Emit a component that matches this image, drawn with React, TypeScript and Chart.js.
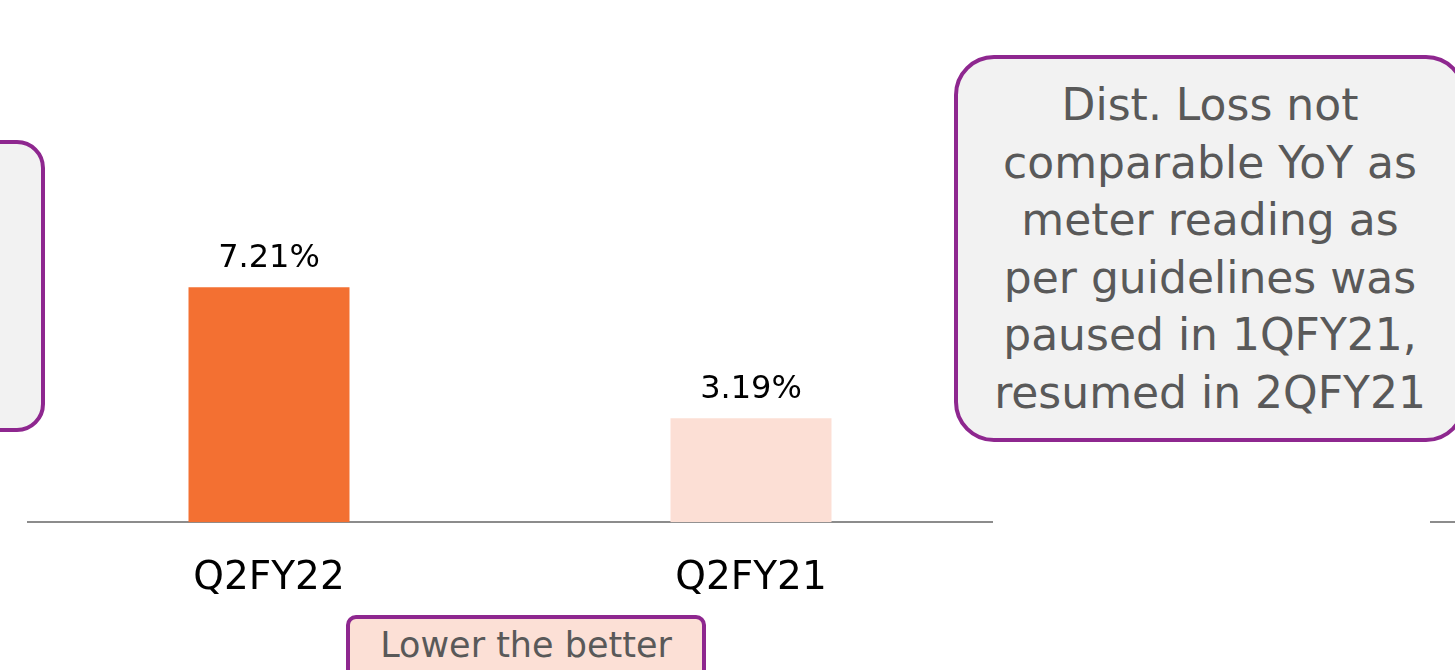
import React, { useEffect, useRef } from "react";
import { Chart, registerables } from "chart.js";

Chart.register(...registerables);

const categories = ["Q2FY22", "Q2FY21"];
const lossValues = [7.21, 3.19];
const valueLabels = ["7.21%", "3.19%"];
const barColors = ["#F37032", "#FCDFD5"];
const noteLines = [
  "Dist. Loss not",
  "comparable YoY as",
  "meter reading as",
  "per guidelines was",
  "paused in 1QFY21,",
  "resumed in 2QFY21",
];
const footNote = "Lower the better";

const FONT = "'DejaVu Sans', 'Noto Sans', sans-serif";
const PURPLE = "#8E278F";

const valueLabelPlugin = {
  id: "valueLabels",
  afterDatasetsDraw(chart: any) {
    const ctx = chart.ctx;
    const meta = chart.getDatasetMeta(0);
    ctx.save();
    ctx.font = `32px ${FONT}`;
    ctx.fillStyle = "#000000";
    ctx.textAlign = "center";
    ctx.textBaseline = "alphabetic";
    meta.data.forEach((bar: any, i: number) => {
      ctx.fillText(valueLabels[i], bar.x, bar.y - 20);
    });
    ctx.restore();
  },
};

export default function App() {
  const canvasRef = useRef<HTMLCanvasElement | null>(null);

  useEffect(() => {
    if (!canvasRef.current) return;
    const chart = new Chart(canvasRef.current, {
      type: "bar",
      data: {
        labels: categories,
        datasets: [
          {
            data: lossValues,
            backgroundColor: barColors,
            borderWidth: 0,
            barPercentage: 0.334,
            categoryPercentage: 1,
          },
        ],
      },
      options: {
        animation: false,
        responsive: true,
        maintainAspectRatio: false,
        layout: { padding: { left: 28, right: 463, top: 66, bottom: 35 } },
        plugins: {
          legend: { display: false },
          tooltip: { enabled: false },
        },
        scales: {
          x: {
            grid: { display: false, drawTicks: false, tickLength: 0 },
            border: { display: true, color: "#8C8C8C", width: 2 },
            ticks: {
              color: "#000000",
              font: { family: FONT, size: 39 },
              padding: 33,
              maxRotation: 0,
            },
          },
          y: {
            display: false,
            min: 0,
            max: 14,
          },
        },
      },
      plugins: [valueLabelPlugin],
    });
    return () => chart.destroy();
  }, []);

  return (
    <div
      style={{
        position: "fixed",
        left: 0,
        top: 0,
        width: 1455,
        height: 670,
        background: "#ffffff",
        overflow: "hidden",
        fontFamily: FONT,
      }}
    >
      <div style={{ position: "absolute", left: 0, top: 0, width: 1455, height: 670 }}>
        <canvas ref={canvasRef} />
      </div>
      {/* left partial note box */}
      <div
        style={{
          position: "absolute",
          left: -40,
          top: 140,
          width: 85,
          height: 292,
          boxSizing: "border-box",
          border: `4px solid ${PURPLE}`,
          borderRadius: 28,
          background: "#F2F2F2",
        }}
      />
      {/* right note box */}
      <div
        style={{
          position: "absolute",
          left: 954,
          top: 55,
          width: 512,
          height: 387,
          boxSizing: "border-box",
          border: `4px solid ${PURPLE}`,
          borderRadius: 40,
          background: "#F2F2F2",
          display: "flex",
          flexDirection: "column",
          alignItems: "center",
          justifyContent: "center",
          color: "#595959",
          fontSize: 44,
          lineHeight: "57.5px",
          textAlign: "center",
          whiteSpace: "nowrap",
        }}
      >
        {noteLines.map((l, i) => (
          <div key={i}>{l}</div>
        ))}
      </div>
      {/* partial axis line of neighbouring chart */}
      <div
        style={{
          position: "absolute",
          left: 1430,
          top: 521,
          width: 30,
          height: 2,
          background: "#8C8C8C",
        }}
      />
      {/* footnote box */}
      <div
        style={{
          position: "absolute",
          left: 346,
          top: 615,
          width: 360,
          height: 80,
          boxSizing: "border-box",
          border: `4px solid ${PURPLE}`,
          borderRadius: 10,
          background: "#FCE0D6",
          color: "#595959",
          fontSize: 35,
          lineHeight: "52px",
          textAlign: "center",
          whiteSpace: "nowrap",
        }}
      >
        {footNote}
      </div>
    </div>
  );
}
